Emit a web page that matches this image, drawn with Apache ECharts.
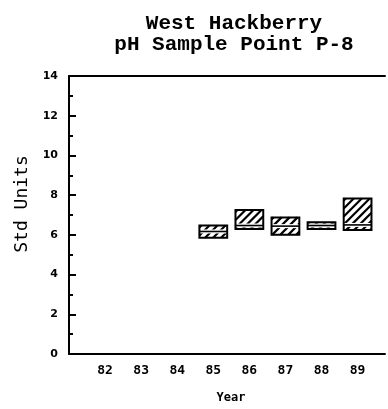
<!DOCTYPE html>
<html>
<head>
<meta charset="utf-8">
<script src="https://cdn.jsdelivr.net/npm/echarts@6/dist/echarts.min.js"></script>
<style>html,body{margin:0;padding:0;background:#fff;}#c{width:388px;height:409px;}</style>
</head>
<body>
<div id="c"></div>
<script>
const years = [85, 86, 87, 88, 89];
const lows  = [5.85, 6.30, 6.01, 6.30, 6.25];
const mids  = [6.17, 6.47, 6.44, 6.47, 6.50];
const highs = [6.47, 7.25, 6.88, 6.63, 7.83];
const xLabels = [82, 83, 84, 85, 86, 87, 88, 89];
const yTicks = [0, 2, 4, 6, 8, 10, 12, 14];

const HALF = 0.385;
const data = years.map((y, i) => [y, lows[i], mids[i], highs[i]]);

function renderItem(params, api) {
  const x = api.value(0), lo = api.value(1), mid = api.value(2), hi = api.value(3);
  const tl = api.coord([x - HALF, hi]);
  const br = api.coord([x + HALF, lo]);
  const m = api.coord([x, mid]);
  const x0 = tl[0], y0 = tl[1], x1 = br[0], y1 = br[1];
  const children = [];
  children.push({type: 'rect', shape: {x: x0, y: y0, width: x1 - x0, height: y1 - y0},
    style: {fill: '#fff', stroke: null}});
  const step = 8;
  for (let c = x0 + y0 + 2; c < x1 + y1; c += step) {
    const xa = Math.max(x0, c - y1), xb = Math.min(x1, c - y0);
    if (xb > xa) {
      children.push({type: 'line', shape: {x1: xa, y1: c - xa, x2: xb, y2: c - xb},
        style: {stroke: '#000', lineWidth: 2.2}});
    }
  }
  children.push({type: 'line', shape: {x1: x0, y1: m[1], x2: x1, y2: m[1]},
    style: {stroke: '#fff', lineWidth: 4}});
  children.push({type: 'line', shape: {x1: x0, y1: m[1], x2: x1, y2: m[1]},
    style: {stroke: '#000', lineWidth: 1.6}});
  children.push({type: 'rect', shape: {x: x0, y: y0, width: x1 - x0, height: y1 - y0},
    style: {fill: null, stroke: '#000', lineWidth: 2}});
  return {type: 'group', children};
}

const chart = echarts.init(document.getElementById('c'), null, {renderer: 'canvas'});
chart.setOption({
  backgroundColor: '#fff',
  animation: false,
  title: {
    text: 'West Hackberry\npH Sample Point P-8',
    left: 229, top: 8, textAlign: 'center',
    textStyle: {fontFamily: 'Liberation Mono', fontWeight: 'bold', fontSize: 21, lineHeight: 21, color: '#000'}
  },
  graphic: [{
    type: 'text', x: 22, y: 204, rotation: Math.PI / 2,
    style: {text: 'Std Units', fontFamily: 'DejaVu Sans Mono', fontSize: 18, fill: '#000',
      align: 'center', verticalAlign: 'middle'}
  }],
  grid: {left: 69, right: 0, top: 76, bottom: 49},
  xAxis: [{
    type: 'value', min: 81, max: 89.76, interval: 1, position: 'bottom',
    name: 'Year', nameLocation: 'middle', nameGap: 38,
    nameTextStyle: {fontFamily: 'DejaVu Sans Mono', fontWeight: 'bold', fontSize: 12, color: '#000', padding: [0, 0, 0, 8]},
    axisLine: {show: true, onZero: false, lineStyle: {color: '#000', width: 2}},
    axisTick: {show: false},
    splitLine: {show: false},
    axisLabel: {
      margin: 10, color: '#000', fontFamily: 'DejaVu Sans Mono', fontWeight: 'bold', fontSize: 13,
      formatter: v => xLabels.indexOf(Math.round(v * 100) / 100) >= 0 ? String(v) : ''
    }
  }, {
    type: 'value', min: 81, max: 89.76, position: 'top',
    axisLine: {show: true, onZero: false, lineStyle: {color: '#000', width: 2}},
    axisTick: {show: false}, axisLabel: {show: false}, splitLine: {show: false}
  }],
  yAxis: {
    type: 'value', min: 0, max: 14, interval: 2,
    axisLine: {show: true, onZero: false, lineStyle: {color: '#000', width: 2}},
    axisTick: {show: true, inside: true, length: 7, lineStyle: {color: '#000', width: 2}},
    minorTick: {show: true, splitNumber: 2, length: 4, lineStyle: {color: '#000', width: 2}},
    splitLine: {show: false},
    axisLabel: {
      margin: 11, color: '#000', fontFamily: 'DejaVu Sans', fontWeight: 'bold', fontSize: 11,
      formatter: v => yTicks.indexOf(v) >= 0 ? String(v) : ''
    }
  },
  series: [{
    type: 'custom', renderItem, data, xAxisIndex: 0,
    encode: {x: 0, y: [1, 2, 3]}
  }]
});
</script>
</body>
</html>
